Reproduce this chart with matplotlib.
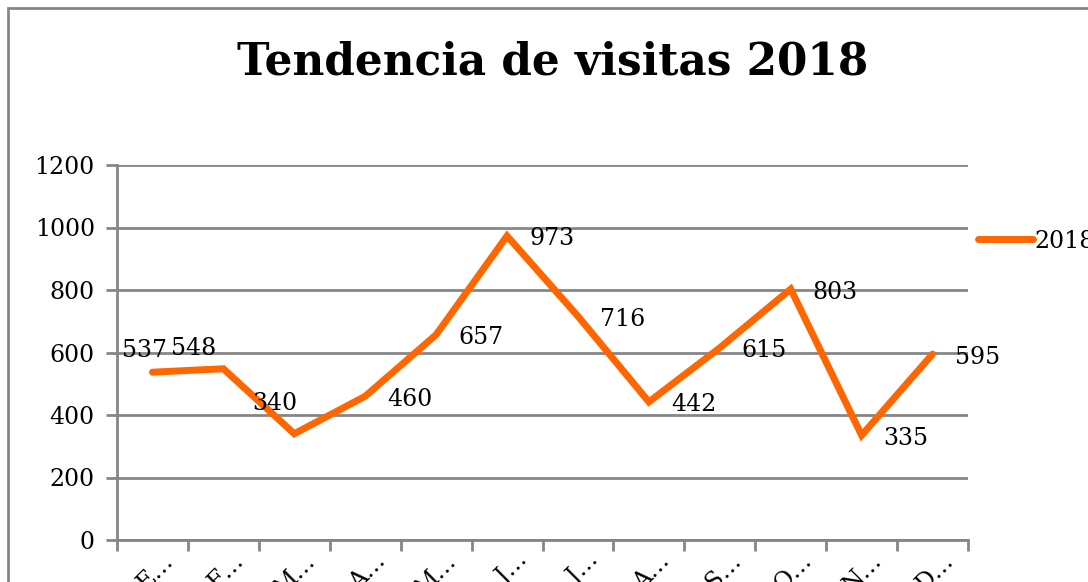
import matplotlib
matplotlib.use("Agg")
import matplotlib.pyplot as plt
from matplotlib.patches import Rectangle

# 数据
meses = ["E…", "F…", "M…", "A…", "M…", "J…", "J…", "A…", "S…", "O…", "N…", "D…"]
visitas = [537, 548, 340, 460, 657, 973, 716, 442, 615, 803, 335, 595]
serie = "2018"
yticks = [0, 200, 400, 600, 800, 1000, 1200]

naranja = "#FF6600"
gris = "#868686"

plt.rcParams['font.family'] = ['DejaVu Serif']

fig = plt.figure(figsize=(10.88, 5.82), dpi=100)
# marco exterior del gráfico
fig.patches.append(Rectangle((8 / 1088, -0.1), 1.2, 1 - 8 / 582 + 0.1,
                             transform=fig.transFigure, fill=False,
                             edgecolor=gris, linewidth=2))

ax = fig.add_axes([117 / 1088, 1 - 540 / 582, 851 / 1088, 375 / 582])
x = list(range(len(meses)))
linea, = ax.plot(x, visitas, color=naranja, linewidth=5, solid_capstyle="round",
                 solid_joinstyle="miter", label=serie, zorder=3)

ax.set_xlim(-0.5, len(meses) - 0.5)
ax.set_ylim(0, 1200)
ax.set_yticks(yticks)
ax.set_xticks([i - 0.5 for i in range(len(meses) + 1)])
ax.set_xticklabels([])
ax.tick_params(axis="x", length=8, width=2, color=gris)
ax.tick_params(axis="y", length=8, width=2, color=gris, labelsize=17, pad=8)
ax.grid(axis="y", color=gris, linewidth=2)
ax.set_axisbelow(True)
for s in ["top", "right"]:
    ax.spines[s].set_visible(False)
for s in ["left", "bottom"]:
    ax.spines[s].set_color(gris)
    ax.spines[s].set_linewidth(2)

# etiquetas del eje x (giradas, truncadas)
for i, m in enumerate(meses):
    ax.annotate(m, (i, 0), xycoords=("data", "axes fraction"), xytext=(22, -22),
                textcoords="offset pixels", rotation=45, rotation_mode="anchor",
                ha="right", va="baseline", fontsize=17, annotation_clip=False)

# etiquetas de datos
desplaz = {0: (-30, 22), 1: (-52, 20), 2: (-42, 30)}
for i, v in enumerate(visitas):
    dx, dy = desplaz.get(i, (22, -3))
    ax.annotate(str(v), (i, v), xytext=(dx, dy), textcoords="offset pixels",
                ha="left", va="center", fontsize=17)

fig.text(553 / 1088, 1 - 62 / 582, "Tendencia de visitas 2018", ha="center",
         va="center", fontsize=31.5, fontweight="bold")

fig.legend(handles=[linea], loc="center left", bbox_to_anchor=(957 / 1088, 1 - 241 / 582),
           frameon=False, fontsize=17, handlelength=2.3, handletextpad=0.1)

fig.savefig("out.png", dpi=100)
